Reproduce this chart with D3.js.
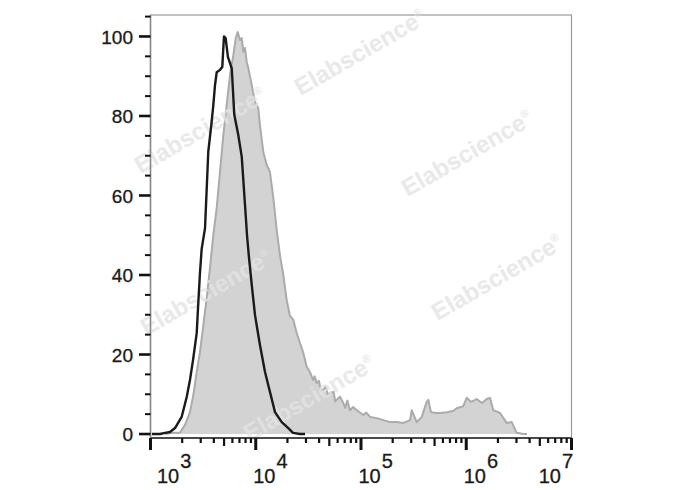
<!DOCTYPE html>
<html><head><meta charset="utf-8">
<script src="https://cdn.jsdelivr.net/npm/d3@7"></script>
<style>html,body{margin:0;padding:0;background:#fff;} svg{display:block;}</style>
</head><body>
<svg id="chart" width="688" height="490"></svg>
<script>
// ---- data ----
const xTickExponents = [3, 4, 5, 6, 7];
const yTickValues = [0, 20, 40, 60, 80, 100];
// stained sample (filled grey histogram): log10 of fluorescence, % of max
const stainedLog = [3.138,3.214,3.280,3.328,3.375,3.407,3.439,3.470,3.502,3.534,3.565,3.597,3.629,3.660,3.692,3.724,3.755,3.787,3.810,3.829,3.850,3.867,3.882,3.898,3.914,3.929,3.962,3.993,4.024,4.040,4.072,4.104,4.135,4.167,4.199,4.230,4.262,4.294,4.325,4.357,4.389,4.420,4.452,4.484,4.515,4.545,4.560,4.579,4.600,4.620,4.642,4.665,4.685,4.705,4.740,4.755,4.769,4.800,4.832,4.850,4.870,4.895,4.925,4.959,4.990,5.022,5.050,5.086,5.149,5.212,5.276,5.339,5.402,5.466,5.482,5.529,5.577,5.624,5.640,5.665,5.719,5.751,5.814,5.874,5.909,5.972,6.004,6.045,6.099,6.150,6.194,6.226,6.257,6.321,6.384,6.432,6.479,6.542,6.577];
const stainedCount = [0,0.3,0.3,2.3,5.5,9.8,15.6,20.6,27.4,34.2,41.8,50.1,56.9,65.9,75.2,82.8,90.3,95.3,99.6,101.1,99.1,99.6,96.1,97.1,93.6,92.1,87.8,83.5,82.0,77.7,70.9,67.7,65.9,59.4,51.3,45.0,40.0,33.7,29.7,28.7,25.4,22.9,20.4,16.9,15.6,13.6,14.5,12.8,13.4,10.9,11.1,12.0,9.9,10.3,10.6,8.2,8.6,9.4,7.8,6.6,8.4,6.0,6.8,6.0,5.4,4.8,5.4,4.3,4.0,3.5,3.0,3.0,2.8,3.5,6.0,3.0,4.3,8.1,8.6,5.5,5.3,5.3,5.5,5.8,6.5,7.0,9.1,8.1,8.8,7.8,8.8,9.1,6.0,5.3,2.8,3.0,0.3,0,0];
// isotype control (black line)
const isotypeLog = [3.014,3.090,3.138,3.185,3.233,3.296,3.344,3.375,3.404,3.439,3.454,3.470,3.486,3.518,3.549,3.581,3.597,3.613,3.629,3.660,3.682,3.698,3.714,3.724,3.736,3.772,3.796,3.834,3.867,3.898,3.917,3.936,3.962,3.993,4.040,4.088,4.135,4.183,4.247,4.309,4.354,4.420,4.468];
const isotypeCount = [0,0,0.3,0.5,1.5,4.3,9.3,13.6,18.6,25.4,33,40.5,46.5,51.8,71,78.5,82.8,87.8,91,91.6,92.3,100,99.6,97.4,94.8,92,80.3,75.2,69.7,57.6,50,44.3,37.5,29.9,22.4,15.6,10.6,5.5,3.0,1.5,0.3,0,0];
const watermarkText = "Elabscience";

// ---- layout ----
const svg = d3.select("#chart");
const x = d3.scaleLog().domain([1e3, 1e7]).range([150.5, 571.5]);
const y = d3.scaleLinear().domain([-1, 105.4]).range([438, 15]);
const FONT = "'Liberation Sans', Arial, sans-serif";

const stained = stainedLog.map((l, i) => ({v: Math.pow(10, l), c: stainedCount[i]}));
const isotype = isotypeLog.map((l, i) => ({v: Math.pow(10, l), c: isotypeCount[i]}));

// frame
svg.append("rect").attr("x", x.range()[0]).attr("y", y.range()[1])
  .attr("width", x.range()[1] - x.range()[0]).attr("height", y.range()[0] - y.range()[1])
  .attr("fill", "none").attr("stroke", "#9a9a9a").attr("stroke-width", 1.2);

// stained histogram
const area = d3.area().x(d => x(d.v)).y0(y(0)).y1(d => y(d.c));
const line = d3.line().x(d => x(d.v)).y(d => y(d.c));
svg.append("path").datum(stained).attr("d", area).attr("fill", "#d3d3d3");
svg.append("path").datum(stained).attr("d", line).attr("fill", "none")
  .attr("stroke", "#ababab").attr("stroke-width", 2).attr("stroke-linejoin", "round");

// watermarks
const wm = [[360, 52], [200, 130], [467, 153], [206, 292], [497, 277], [309, 398]];
wm.forEach(([cx, cy]) => {
  const g = svg.append("g").attr("transform", `translate(${cx},${cy}) rotate(-30)`).attr("opacity", 0.8);
  const t = g.append("text").attr("text-anchor", "middle").attr("dy", "0.35em")
    .attr("font-family", FONT).attr("font-weight", "bold").attr("font-size", 24).attr("fill", "#e4e4e4");
  t.append("tspan").text(watermarkText);
  t.append("tspan").attr("font-size", 11).attr("dy", "-0.9em").text("®");
});

// isotype line
svg.append("path").datum(isotype).attr("d", line).attr("fill", "none")
  .attr("stroke", "#1a1a1a").attr("stroke-width", 2.4).attr("stroke-linejoin", "round");

// axis lines
svg.append("line").attr("x1", x.range()[0]).attr("x2", x.range()[1]).attr("y1", 438).attr("y2", 438)
  .attr("stroke", "#222").attr("stroke-width", 1.5);
svg.append("line").attr("x1", x.range()[0]).attr("x2", x.range()[0]).attr("y1", 15).attr("y2", 438)
  .attr("stroke", "#888").attr("stroke-width", 1.5);

// y ticks
const yAll = d3.range(0, 106, 5);
svg.selectAll(".yt").data(yAll).enter().append("line")
  .attr("x1", d => yTickValues.includes(d) ? 139 : 145).attr("x2", x.range()[0])
  .attr("y1", d => y(d)).attr("y2", d => y(d))
  .attr("stroke", "#111").attr("stroke-width", d => yTickValues.includes(d) ? 2.6 : 2);
svg.selectAll(".yl").data(yTickValues).enter().append("text")
  .attr("x", 133).attr("y", d => y(d)).attr("dy", "0.38em").attr("text-anchor", "end")
  .attr("font-family", FONT).attr("font-size", 19).attr("fill", "#1a1a1a")
  .attr("stroke", "#1a1a1a").attr("stroke-width", 0.3).text(d => d);

// x ticks
const xMinor = [];
for (let e = 3; e < 7; e++) for (let m = 1; m <= 9; m++) xMinor.push({v: m * Math.pow(10, e), m});
xMinor.push({v: 1e7, m: 1});
svg.selectAll(".xt").data(xMinor).enter().append("line")
  .attr("x1", d => x(d.v)).attr("x2", d => x(d.v)).attr("y1", 438)
  .attr("y2", d => 438 + (d.m === 1 ? 12 : d.m === 5 ? 8 : 5))
  .attr("stroke", "#111").attr("stroke-width", d => d.m === 1 ? 3 : 2.2);

xTickExponents.forEach((e, i) => {
  const tx = x(Math.pow(10, e));
  const first = i === 0, last = i === xTickExponents.length - 1;
  const t = svg.append("text").attr("y", 483)
    .attr("x", first ? tx + 6.5 : last ? tx + 1.5 : tx - 2.5)
    .attr("text-anchor", last ? "end" : "start")
    .attr("font-family", FONT).attr("font-size", 20).attr("fill", "#1a1a1a")
    .attr("stroke", "#1a1a1a").attr("stroke-width", 0.3);
  t.append("tspan").text("10");
  t.append("tspan").attr("dy", -15).attr("dx", 1).text(e);
});
</script>
</body></html>
